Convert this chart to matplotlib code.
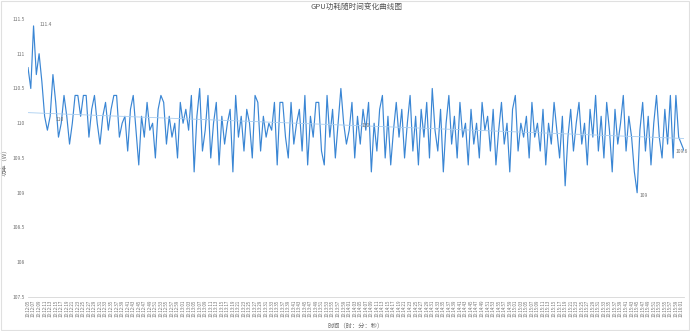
import matplotlib
matplotlib.use("Agg")
import matplotlib.pyplot as plt
import numpy as np
from matplotlib.patches import Rectangle

plt.rcParams['font.family'] = ['Noto Sans CJK SC', 'DejaVu Sans']

TITLE = "GPU功耗随时间变化曲线图"
X_LABEL = "时间（时：分：秒）"
Y_LABEL = "功率（W）"

# power readings (W)
power = [
    110.8, 110.5, 111.4, 110.7, 111.0, 110.6, 110.1, 109.9, 110.1, 110.7,
    110.3, 109.8, 110.0, 110.4, 110.1, 109.7, 110.0, 110.4, 110.4, 110.1,
    110.4, 110.4, 109.8, 110.2, 110.4, 110.0, 109.7, 110.1, 110.3, 109.9,
    110.2, 110.4, 110.4, 109.8, 110.0, 110.1, 109.6, 110.2, 110.4, 109.9,
    109.4, 110.1, 109.8, 110.3, 109.9, 110.0, 109.5, 110.2, 110.4, 110.3,
    109.7, 110.1, 109.8, 110.0, 109.5, 110.3, 110.0, 110.2, 109.9, 110.4,
    109.3, 110.1, 110.5, 109.6, 109.9, 110.4, 109.5, 110.0, 110.3, 109.4,
    110.1, 109.7, 110.0, 110.2, 109.3, 110.4, 109.8, 110.1, 109.6, 110.2,
    110.0, 109.5, 110.4, 110.3, 109.6, 110.1, 109.8, 110.0, 109.9, 110.3,
    109.4, 110.3, 110.3, 109.8, 109.5, 110.3, 109.7, 110.0, 110.2, 109.6,
    110.4, 109.4, 110.1, 109.8, 110.3, 110.3, 109.6, 109.4, 110.4, 109.8,
    110.2, 109.5, 110.0, 110.5, 110.0, 109.7, 109.9, 110.3, 109.5, 110.1,
    109.7, 110.2, 109.9, 110.3, 109.3, 110.0, 109.6, 110.2, 110.4, 109.5,
    110.1, 109.4, 109.9, 110.3, 109.8, 110.2, 109.5, 110.0, 110.4, 109.6,
    110.1, 109.4, 110.2, 109.8, 110.3, 109.5, 110.5, 109.9, 109.6, 110.2,
    109.3, 110.0, 110.4, 109.7, 110.1, 109.5, 110.3, 109.8, 110.0, 109.4,
    110.2, 109.7, 110.0, 109.5, 110.3, 109.9, 110.1, 109.6, 110.2, 109.4,
    109.9, 110.3, 109.7, 110.0, 109.3, 110.2, 110.4, 109.6, 110.0, 109.8,
    110.1, 109.5, 110.3, 109.8, 110.0, 109.6, 110.2, 109.4, 110.0, 109.7,
    110.3, 109.9, 109.5, 110.1, 109.1, 109.8, 110.2, 109.6, 110.0, 110.3,
    109.7, 110.0, 109.4, 110.2, 109.8, 110.4, 109.6, 110.1, 109.5, 110.3,
    109.9, 109.3, 110.2, 109.7, 110.0, 110.4, 109.6, 110.1, 109.8, 109.3,
    109.0, 109.9, 110.3, 109.6, 110.1, 109.4, 110.0, 110.4, 109.8, 109.5,
    110.2, 109.7, 110.4, 109.5, 110.4, 109.8, 109.7, 109.6,
]

start_sec = 10 * 3600 + 12 * 60 + 5
times = []
for k in range(len(power)):
    s = start_sec + k
    times.append(f"{s // 3600:02d}:{(s // 60) % 60:02d}:{s % 60:02d}")

y_ticks = [107.5, 108, 108.5, 109, 109.5, 110, 110.5, 111, 111.5]

line_color = '#3a86d4'
text_color = '#6e6e6e'

fig = plt.figure(figsize=(6.9, 3.31), dpi=100)
ax = fig.add_axes([0.0406, 0.1027, 0.951, 0.84])

x = np.arange(len(power))
y = np.array(power)
ax.plot(x, y, color=line_color, linewidth=0.85)

# trend line
k, b = np.polyfit(x, y, 1)
ax.plot(x, k * x + b, color='#a8cdf0', linewidth=0.6)

ax.set_xlim(0, len(power) - 1)
ax.set_ylim(y_ticks[0], y_ticks[-1])
ax.set_yticks(y_ticks)
ax.set_yticklabels([f"{t:g}" for t in y_ticks], fontsize=3.5, color=text_color)
ax.set_xticks(x[::2])
ax.set_xticklabels(times[::2], rotation=90, fontsize=3.2, color=text_color)
ax.tick_params(length=0, pad=2)

for side in ['top', 'right', 'left']:
    ax.spines[side].set_visible(False)
ax.spines['bottom'].set_color('#d6d6d6')
ax.spines['bottom'].set_linewidth(0.6)

ax.set_title(TITLE, fontsize=5.5, color='#555555', pad=7)
ax.set_xlabel(X_LABEL, fontsize=4.5, color=text_color, labelpad=3)
ax.set_ylabel(Y_LABEL, fontsize=4.5, color=text_color)
ax.yaxis.set_label_coords(-0.029, 0.49)

# max / min / last labels
i_max = int(np.argmax(y))
i_min = int(np.argmin(y))
ax.annotate(f"{y[i_max]:g}", (x[i_max], y[i_max]), xytext=(4, 1),
            textcoords='offset points', fontsize=3.5, color=text_color, va='center')
ax.annotate(f"{y[i_min]:g}", (x[i_min], y[i_min]), xytext=(2, -2),
            textcoords='offset points', fontsize=3.5, color=text_color, va='center')
ax.annotate(f"{y[-1]:g}", (x[-1], y[-1]), xytext=(-6, 0),
            textcoords='offset points', fontsize=3.5, color=text_color, va='center')

mean_val = round(float(y.mean()), 1)
ax.annotate(f"{mean_val:g}", (x[8], k * x[8] + b), xytext=(4, -4),
            textcoords='offset points', fontsize=3.5, color=text_color, va='center',
            arrowprops=dict(arrowstyle='-', color='#999999', lw=0.4))
ax.annotate(f"{mean_val:g}", (x[120], k * x[120] + b), xytext=(1, 0),
            textcoords='offset points', fontsize=3.5, color=text_color, va='center')

fig.patches.append(Rectangle((0.002, 0.003), 0.996, 0.994, transform=fig.transFigure,
                             fill=False, edgecolor='#e0e0e0', linewidth=0.8))

fig.savefig("out.png", dpi=100)
